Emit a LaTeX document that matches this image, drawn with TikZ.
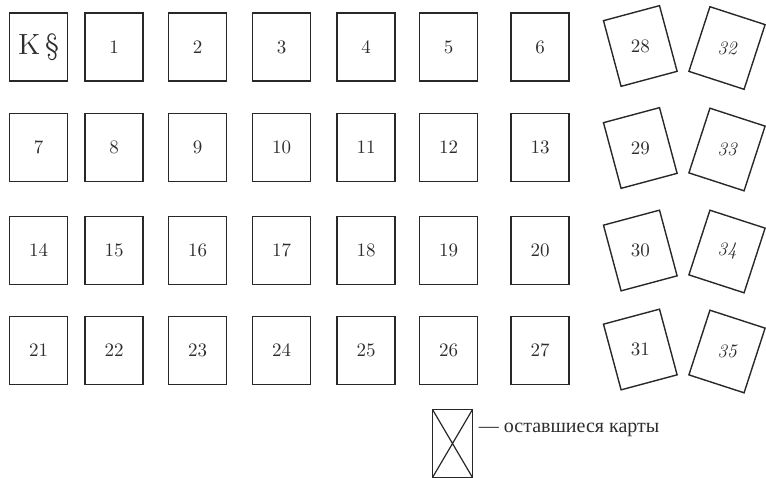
\documentclass[tikz,border=0pt]{standalone}
\usepackage{fontspec}
\newfontfamily\rufont{Liberation Serif}
\usepackage{tikz}
\usetikzlibrary{positioning}
\definecolor{edge}{RGB}{40,40,40}
\definecolor{numink}{RGB}{45,45,45}

\begin{document}
\begin{tikzpicture}[x=0.5pt, y=-0.5pt,
  card/.style={rectangle, draw=edge, line width=0.7pt, inner sep=0pt, outer sep=0pt,
               minimum width=29pt, minimum height=34pt, text=numink,
               font=\fontsize{9.5}{11}\selectfont},
  legbox/.style={rectangle, draw=edge, line width=0.7pt, inner sep=0pt, outer sep=0pt,
                 minimum width=20pt, minimum height=34pt},
  legtxt/.style={inner sep=0pt, text=numink, font=\rufont\fontsize{10}{12}\selectfont}]
  \useasboundingbox (0,0) rectangle (766,477);
  % the deck laid out in rows of seven
  \foreach \x [count=\c from 0] in {38.5,114,197.5,281.5,366,448.5,540} {
    \foreach \y [count=\r from 0] in {47,147.5,250.5,350.5} {
      \pgfmathtruncatemacro{\n}{7*\r+\c}
      \ifnum\n>0 \node[card] (c\n) at (\x,\y) {\n}; \fi
    }
  }
  \node[card, font=\fontsize{14.6}{16}\selectfont] (k) at (38.5,47) {K\,\S};
  % tilted cards on the right
  \foreach \n/\y in {28/46,29/148,30/250.5,31/349.5}
    \node[card, rotate=15] (c\n) at (640.3,\y) {\rotatebox{-15}{\n}};
  \foreach \n/\y in {32/48,33/149.5,34/251.5,35/351.5}
    \node[card, rotate=-18] (c\n) at (727,\y) {\rotatebox{18}{\itshape\n}};
  % legend
  \node[legbox] (leg) at (452.5,443.5) {};
  \draw[edge, line width=0.6pt] (leg.north west) -- (leg.south east)
                                (leg.north east) -- (leg.south west);
  \node[legtxt, anchor=base west] (legt) at ([xshift=3pt,yshift=5.75pt]leg.east)
    {— оставшиеся карты};
\end{tikzpicture}
\end{document}
